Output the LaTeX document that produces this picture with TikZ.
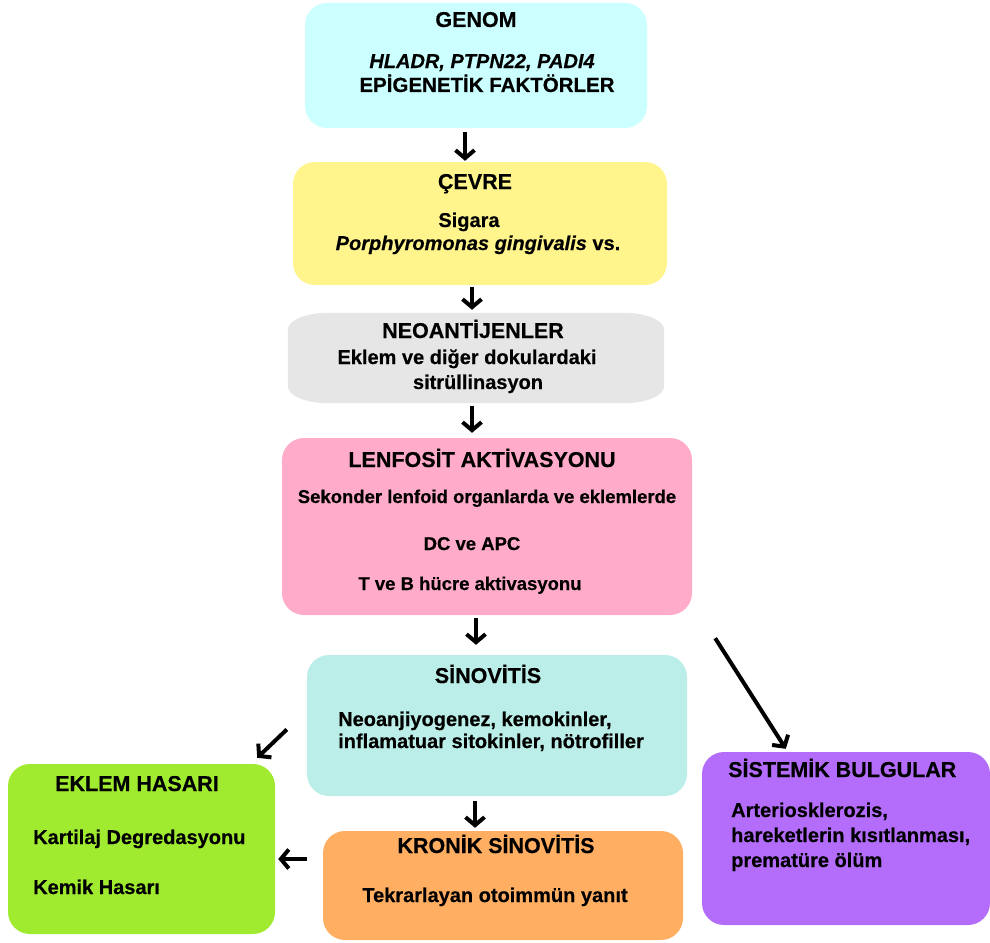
\documentclass[tikz,border=0pt]{standalone}
\usepackage{fontspec}
\setmainfont{Liberation Sans}[BoldFeatures={FakeBold=0.4},BoldItalicFeatures={FakeBold=0.4}]
\usetikzlibrary{arrows.meta,fit}
\definecolor{cgenom}{RGB}{204,255,255}
\definecolor{ccevre}{RGB}{255,245,140}
\definecolor{cneo}{RGB}{230,230,230}
\definecolor{clenf}{RGB}{255,171,201}
\definecolor{csin}{RGB}{187,238,232}
\definecolor{ckron}{RGB}{255,174,98}
\definecolor{ceklem}{RGB}{160,235,48}
\definecolor{csis}{RGB}{180,108,250}
\begin{document}
\begin{tikzpicture}[x=1pt,y=-1pt,
  box/.style={rounded corners=22pt, inner sep=0pt, draw=none},
  ttl/.style={inner sep=0pt, anchor=base, font=\fontsize{21.5}{25}\selectfont\bfseries},
  bdy/.style={inner sep=0pt, anchor=base, font=\fontsize{20}{24}\selectfont\bfseries},
  bdys/.style={inner sep=0pt, anchor=base, font=\fontsize{18.5}{22}\selectfont\bfseries},
  arr/.style={line width=4pt, -{Straight Barb[length=8pt,width=19pt]}}]
\useasboundingbox (0,0) rectangle (990,942);
% boxes
\node[box,fill=cgenom,fit={(305,3)(647,128)}] (genom) {};
\node[box,fill=ccevre,fit={(293,162)(667,285)}] (cevre) {};
\node[inner sep=0pt,fit={(288,313)(664,403)}] (neo) {};
\fill[cneo] ([shift={(0,17)}]neo.north west) arc[start angle=180,end angle=270,x radius=40,y radius=17]
  -- ([shift={(-40,0)}]neo.north east) arc[start angle=270,end angle=360,x radius=40,y radius=17]
  -- ([shift={(0,-17)}]neo.south east) arc[start angle=0,end angle=90,x radius=40,y radius=17]
  -- ([shift={(40,0)}]neo.south west) arc[start angle=90,end angle=180,x radius=40,y radius=17]
  -- cycle;
\node[box,fill=clenf,fit={(282,438)(692,615)}] (lenf) {};
\node[box,fill=csin,fit={(307,655)(687,796)}] (sin) {};
\node[box,fill=ckron,fit={(323,831)(683,940)}] (kron) {};
\node[box,fill=ceklem,fit={(8,764)(275,934)}] (eklem) {};
\node[box,fill=csis,fit={(702,752)(990,925)}] (sis) {};
% texts
\node[ttl] (t1) at (476,27) {GENOM};
\node[bdy,font=\fontsize{20}{24}\selectfont\bfseries\itshape] (t1a) at (482,68) {HLADR, PTPN22, PADI4};
\node[bdy,font=\fontsize{20.5}{24}\selectfont\bfseries] (t1b) at (487,92) {EPİGENETİK FAKTÖRLER};
\node[ttl] (t2) at (475,189) {ÇEVRE};
\node[bdy] (t2a) at (469,227) {Sigara};
\node[bdy] (t2b) at (478,250) {\textit{Porphyromonas gingivalis} vs.};
\node[ttl] (t3) at (473,338) {NEOANTİJENLER};
\node[bdy] (t3a) at (467,364) {Eklem ve diğer dokulardaki};
\node[bdy] (t3b) at (478,389) {sitrüllinasyon};
\node[ttl] (t4) at (482,467) {LENFOSİT AKTİVASYONU};
\node[bdys] (t4a) at (487,503) {Sekonder lenfoid organlarda ve eklemlerde};
\node[bdys] (t4b) at (472,550) {DC ve APC};
\node[bdys] (t4c) at (470,590) {T ve B hücre aktivasyonu};
\node[ttl] (t5) at (488,683) {SİNOVİTİS};
\node[bdy,anchor=base west] (t5a) at (338,726) {Neoanjiyogenez, kemokinler,};
\node[bdy,anchor=base west] (t5b) at (338,748) {inflamatuar sitokinler, nötrofiller};
\node[ttl] (t6) at (496,853) {KRONİK SİNOVİTİS};
\node[bdy] (t6a) at (495,902) {Tekrarlayan otoimmün yanıt};
\node[ttl] (t7) at (137,791) {EKLEM HASARI};
\node[bdy,anchor=base west] (t7a) at (33,844) {Kartilaj Degredasyonu};
\node[bdy,anchor=base west] (t7b) at (33,894) {Kemik Hasarı};
\node[ttl,anchor=base west] (t8) at (728,777) {SİSTEMİK BULGULAR};
\node[bdy,anchor=base west] (t8a) at (731,817) {Arteriosklerozis,};
\node[bdy,anchor=base west] (t8b) at (731,842) {hareketlerin kısıtlanması,};
\node[bdy,anchor=base west] (t8c) at (731,867) {prematüre ölüm};
% arrows
\draw[arr] ([shift={(-11,4)}]genom.south) -- ([shift={(-15,-1)}]cevre.north);
\draw[arr] ([shift={(-8,2)}]cevre.south) -- ([shift={(-4,-3)}]neo.north);
\draw[arr] ([shift={(-4,3)}]neo.south) -- ([shift={(-15,-5)}]lenf.north);
\draw[arr] ([shift={(-11,3)}]lenf.south) -- ([shift={(-21,-10)}]sin.north);
\draw[arr] ([shift={(-22,5)}]sin.south) -- ([shift={(-28,-3)}]kron.north);
\draw[arr] ([shift={(-20,4)}]sin.west) -- ([shift={(-18,-6)}]eklem.north east);
\draw[arr] ([shift={(-16,-26.5)}]kron.west) -- ([shift={(3,10)}]eklem.east);
\draw[arr] ([shift={(23,23)}]lenf.south east) -- ([shift={(84,-3)}]sis.north west);
\end{tikzpicture}
\end{document}
